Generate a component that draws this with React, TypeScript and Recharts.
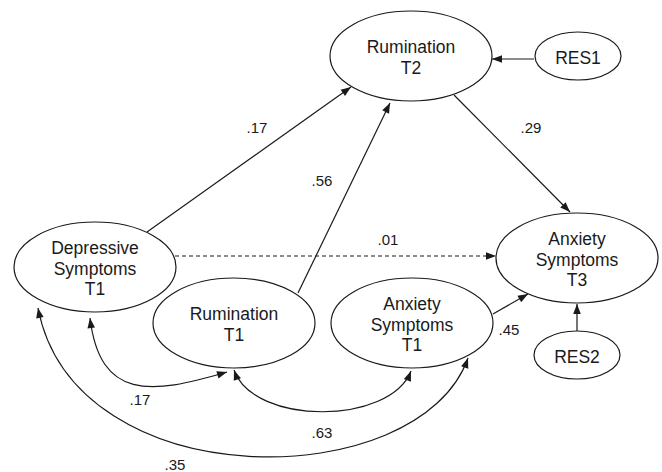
import { ScatterChart, Scatter, XAxis, YAxis, ReferenceLine } from 'recharts';

const W = 662;
const H = 472;
const FONT = '"Liberation Sans", Arial, sans-serif';
const INK = '#1a1a1a';

// model variables
const nodeIds = ['rumT2', 'res1', 'depT1', 'rumT1', 'anxT1', 'anxT3', 'res2'];
const nodeLabels = [
    ['Rumination', 'T2'],
    ['RES1'],
    ['Depressive', 'Symptoms', 'T1'],
    ['Rumination', 'T1'],
    ['Anxiety', 'Symptoms', 'T1'],
    ['Anxiety', 'Symptoms', 'T3'],
    ['RES2'],
];

// directed paths with standardized coefficients
const pathFrom = ['depT1', 'rumT1', 'rumT2', 'depT1', 'anxT1'];
const pathTo = ['rumT2', 'rumT2', 'anxT3', 'anxT3', 'anxT3'];
const pathCoefs = ['.17', '.56', '.29', '.01', '.45'];
const pathSignificant = [true, true, true, false, true];

// residual terms
const resFrom = ['res1', 'res2'];
const resTo = ['rumT2', 'anxT3'];

// covariances between T1 variables
const covFrom = ['depT1', 'rumT1', 'depT1'];
const covTo = ['rumT1', 'anxT1', 'anxT1'];
const covCoefs = ['.17', '.63', '.35'];

// layout in diagram units
const nodeX = [411, 578, 95, 234, 412, 577, 577];
const nodeY = [56, 56, 267, 323, 323, 258, 355];
const pathEnds = [
    [147, 232, 351, 87],
    [298, 293, 390, 103],
    [454, 95, 570, 212],
    [175, 256, 496, 256],
    [493, 314, 528, 294],
];
const pathLabelX = [257, 322, 531, 388, 509];
const pathLabelY = [127, 180, 127, 239, 329];
const resEnds = [
    [534, 59, 492, 59],
    [577, 331, 577, 304],
];
const covEnds = [
    [90, 318, 227, 372],
    [234, 370, 411, 371],
    [38, 308, 468, 358],
];
// control handle offsets (px) for the curved covariance arrows
const covBend = [
    [10, 82, -77, 23],
    [20, 56, -21, 54],
    [37, 192, -48, 137],
];
const covLabelX = [140, 322, 175];
const covLabelY = [399, 432, 464];

const nodes = nodeIds.map((id, i) => ({
    id,
    x: nodeX[i],
    y: nodeY[i],
    lines: nodeLabels[i],
    small: id.startsWith('res'),
}));

const coefLabels = [
    ...pathCoefs.map((t, i) => ({ x: pathLabelX[i], y: pathLabelY[i], text: t })),
    ...covCoefs.map((t, i) => ({ x: covLabelX[i], y: covLabelY[i], text: t })),
];

const head = (tx: number, ty: number, fx: number, fy: number) => {
    const dx = tx - fx;
    const dy = ty - fy;
    const len = Math.hypot(dx, dy) || 1;
    const ux = dx / len;
    const uy = dy / len;
    const L = 10;
    const w = 3.8;
    const bx = tx - ux * L;
    const by = ty - uy * L;
    return `${tx},${ty} ${bx - uy * w},${by + ux * w} ${bx + uy * w},${by - ux * w}`;
};

const Arrow = ({ x1, y1, x2, y2, dashed }: any) => (
    <g>
        <line
            x1={x1}
            y1={y1}
            x2={x2}
            y2={y2}
            stroke={INK}
            strokeWidth={1.2}
            strokeDasharray={dashed ? '4 3' : undefined}
        />
        <polygon points={head(x2, y2, x1, y1)} fill={INK} />
    </g>
);

const CurvedArrow = ({ x1, y1, x2, y2, bend }: any) => {
    const c1x = x1 + bend[0];
    const c1y = y1 + bend[1];
    const c2x = x2 + bend[2];
    const c2y = y2 + bend[3];
    return (
        <g>
            <path
                d={`M${x1},${y1} C${c1x},${c1y} ${c2x},${c2y} ${x2},${y2}`}
                fill="none"
                stroke={INK}
                strokeWidth={1.2}
            />
            <polygon points={head(x1, y1, c1x, c1y)} fill={INK} />
            <polygon points={head(x2, y2, c2x, c2y)} fill={INK} />
        </g>
    );
};

const NodeShape = (props: any) => {
    const { cx, cy, payload } = props;
    const rx = payload.small ? 43 : 81;
    const ry = payload.small ? 24 : 45;
    const lines: string[] = payload.lines;
    const lh = 20.5;
    const top = cy + 1.5 - ((lines.length - 1) * lh) / 2;
    return (
        <g>
            <ellipse cx={cx} cy={cy} rx={rx} ry={ry} fill="none" stroke={INK} strokeWidth={1.2} />
            {lines.map((t, i) => (
                <text
                    key={i}
                    x={cx}
                    y={top + i * lh}
                    textAnchor="middle"
                    dominantBaseline="central"
                    fontFamily={FONT}
                    fontSize={17.5}
                    fill={INK}
                >
                    {t}
                </text>
            ))}
        </g>
    );
};

const CoefShape = (props: any) => (
    <text
        x={props.cx}
        y={props.cy}
        textAnchor="middle"
        dominantBaseline="central"
        fontFamily={FONT}
        fontSize={15}
        fill={INK}
    >
        {props.payload.text}
    </text>
);

export default function App() {
    return (
        <div style={{ position: 'absolute', left: 0, top: 0, width: W, height: H, background: '#fff' }}>
            <ScatterChart width={W} height={H} margin={{ top: 0, right: 0, bottom: 0, left: 0 }}>
                <XAxis type="number" dataKey="x" domain={[0, W]} hide />
                <YAxis type="number" dataKey="y" domain={[0, H]} reversed hide />
                {pathEnds.map((e, i) => (
                    <ReferenceLine
                        key={`p-${pathFrom[i]}-${pathTo[i]}`}
                        segment={[{ x: e[0], y: e[1] }, { x: e[2], y: e[3] }]}
                        ifOverflow="visible"
                        shape={(p: any) => <Arrow {...p} dashed={!pathSignificant[i]} />}
                    />
                ))}
                {resEnds.map((e, i) => (
                    <ReferenceLine
                        key={`r-${resFrom[i]}-${resTo[i]}`}
                        segment={[{ x: e[0], y: e[1] }, { x: e[2], y: e[3] }]}
                        ifOverflow="visible"
                        shape={(p: any) => <Arrow {...p} />}
                    />
                ))}
                {covEnds.map((e, i) => (
                    <ReferenceLine
                        key={`c-${covFrom[i]}-${covTo[i]}`}
                        segment={[{ x: e[0], y: e[1] }, { x: e[2], y: e[3] }]}
                        ifOverflow="visible"
                        shape={(p: any) => <CurvedArrow {...p} bend={covBend[i]} />}
                    />
                ))}
                <Scatter data={nodes} shape={NodeShape} isAnimationActive={false} />
                <Scatter data={coefLabels} shape={CoefShape} isAnimationActive={false} />
            </ScatterChart>
        </div>
    );
}
